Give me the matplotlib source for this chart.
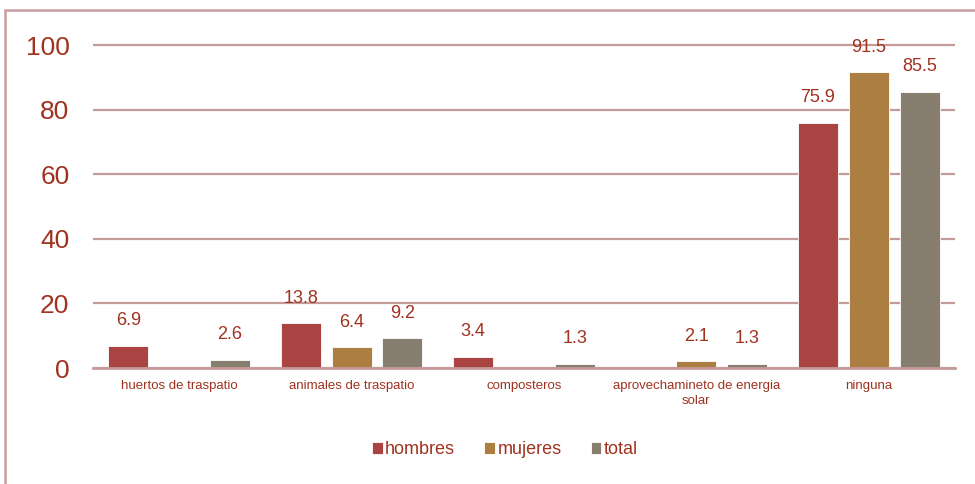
import numpy as np
import matplotlib
matplotlib.use("Agg")
import matplotlib.pyplot as plt
from matplotlib.patches import Rectangle

categories = ["huertos de traspatio", "animales de traspatio", "composteros",
              "aprovechamineto de energia\nsolar", "ninguna"]
hombres = [6.9, 13.8, 3.4, None, 75.9]
mujeres = [None, 6.4, None, 2.1, 91.5]
total = [2.6, 9.2, 1.3, 1.3, 85.5]
series_names = ["hombres", "mujeres", "total"]
yticks = [0, 20, 40, 60, 80, 100]

colors = ["#AA4442", "#AD7E42", "#877E70"]
text_c = "#A0321F"
grid_c = "#C49B99"

plt.rcParams["font.family"] = ["Liberation Sans", "DejaVu Sans"]

fig = plt.figure(figsize=(9.75, 4.84), dpi=100)
W, H = 975, 484
# y=0 at pixel 368, y=100 at pixel 45 -> 3.23 px per unit; top of axes at 102
ax = fig.add_axes([93 / W, 1 - 368 / H, (955 - 93) / W, (368 - 45 + 2 * 3.23) / H])

x = np.arange(len(categories))
offs = [-0.295, 0.0, 0.295]
width = 0.232
for vals, off, col, name in zip([hombres, mujeres, total], offs, colors, series_names):
    v = np.array([np.nan if a is None else a for a in vals], dtype=float)
    ax.bar(x + off, np.nan_to_num(v), width, color=col, label=name,
           edgecolor="white", linewidth=0.6, zorder=3)
    for xi, vi in zip(x + off, v):
        if not np.isnan(vi):
            ax.annotate(f"{vi:.1f}", (xi, vi), xytext=(0, 12), textcoords="offset points",
                        ha="center", va="bottom", fontsize=13, color=text_c, zorder=4)

ax.set_xlim(-0.5, len(categories) - 0.5)
ax.set_ylim(0, 102)
ax.set_yticks(yticks)
ax.set_xticks(x)
ax.set_xticklabels(categories, fontsize=9.5, color=text_c, linespacing=1.3)
ax.tick_params(axis="x", length=0, pad=9)
ax.tick_params(axis="y", length=0, pad=17, labelsize=19, labelcolor=text_c)
ax.yaxis.grid(True, color=grid_c, linewidth=1.6, zorder=0)
for s in ["top", "right", "left"]:
    ax.spines[s].set_visible(False)
ax.spines["bottom"].set_color(grid_c)
ax.spines["bottom"].set_linewidth(2)
ax.spines["bottom"].set_zorder(5)

leg = fig.legend(loc="center", bbox_to_anchor=(505 / W, 1 - 450 / H), ncol=3,
                 frameon=False, fontsize=13, handlelength=0.6, handleheight=0.6,
                 handletextpad=0.15, columnspacing=1.6)
for t in leg.get_texts():
    t.set_color(text_c)

fig.patches.append(Rectangle((5 / W, -0.1), 1.2, 1 - 10 / H + 0.1, transform=fig.transFigure,
                             fill=False, edgecolor="#C99C9B", linewidth=1.8, zorder=0))

fig.savefig("out.png", dpi=100)
